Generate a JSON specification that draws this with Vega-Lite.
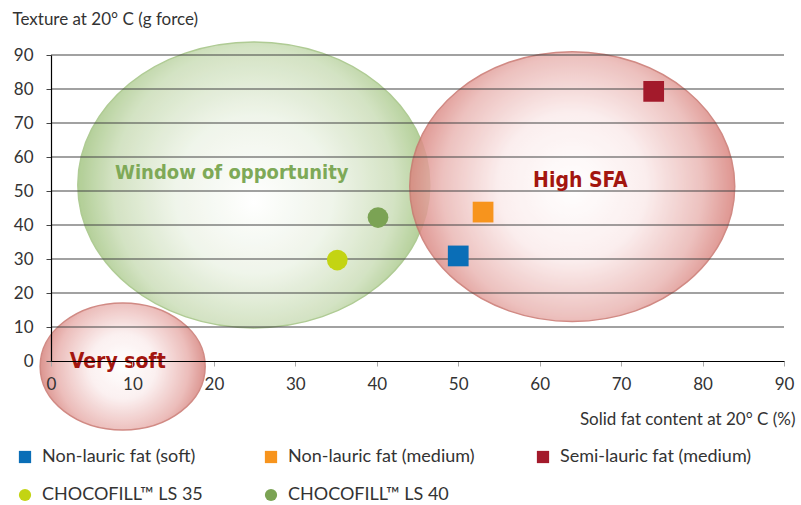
{
  "$schema": "https://vega.github.io/schema/vega-lite/v6.json",
  "width": 733,
  "height": 306,
  "autosize": {"type": "none"},
  "padding": {"left": 51, "top": 55, "right": 17, "bottom": 144},
  "background": "white",
  "config": {
    "view": {"stroke": null},
    "font": "Lato",
    "axisX": {
      "tickCount": 9,
      "grid": false,
      "domainColor": "#000000",
      "domainWidth": 1.2,
      "tickColor": "#aaaaaa",
      "tickSize": 5,
      "labelFontSize": 17,
      "labelColor": "#333333",
      "labelPadding": 10,
      "labelOverlap": false,
      "labelFlush": false,
      "titleFontSize": 17,
      "titleFontWeight": "normal",
      "titleColor": "#333333",
      "titleAlign": "right",
      "titleBaseline": "middle",
      "titleX": 744,
      "titleY": 58
    },
    "axisY": {
      "tickCount": 9,
      "grid": false,
      "domainColor": "#000000",
      "domainWidth": 1.2,
      "tickColor": "#444444",
      "tickSize": 5,
      "labelFontSize": 17,
      "labelColor": "#333333",
      "labelPadding": 13,
      "labelOverlap": false,
      "titleFontSize": 17,
      "titleFontWeight": "normal",
      "titleColor": "#333333",
      "titleAngle": 0,
      "titleAlign": "left",
      "titleBaseline": "middle",
      "titleX": -39,
      "titleY": -36
    }
  },
  "datasets": {
    "zones": [
      {"zone": "Window of opportunity", "cx": 24.9, "cy": 51.8, "lx": 22.2, "ly": 55.3},
      {"zone": "High SFA", "cx": 64.0, "cy": 51.3, "lx": 65.0, "ly": 52.9},
      {"zone": "Very soft", "cx": 8.8, "cy": -1.6, "lx": 8.2, "ly": -0.4}
    ],
    "grid": [
      {"level": 10}, {"level": 20}, {"level": 30}, {"level": 40}, {"level": 50},
      {"level": 60}, {"level": 70}, {"level": 80}, {"level": 90}
    ],
    "products": [
      {"product": "Non-lauric fat (soft)", "sfc": 50.0, "texture": 30.9},
      {"product": "Non-lauric fat (medium)", "sfc": 53.05, "texture": 43.8},
      {"product": "Semi-lauric fat (medium)", "sfc": 74.0, "texture": 79.3},
      {"product": "CHOCOFILL™ LS 35", "sfc": 35.15, "texture": 29.7},
      {"product": "CHOCOFILL™ LS 40", "sfc": 40.15, "texture": 42.2}
    ]
  },
  "layer": [
    {
      "data": {"name": "zones"},
      "transform": [{"filter": "datum.zone === 'Window of opportunity'"}],
      "mark": {
        "type": "point",
        "shape": "M -1 0 A 1 0.8125 0 1 1 1 0 A 1 0.8125 0 1 1 -1 0 Z",
        "size": 123904,
        "filled": true,
        "fill": {
          "gradient": "radial",
          "x1": 0.5, "y1": 0.55, "r1": 0,
          "x2": 0.5, "y2": 0.5, "r2": 0.5,
          "stops": [
            {"offset": 0, "color": "#ffffff"},
            {"offset": 0.45, "color": "#eef4e8"},
            {"offset": 0.8, "color": "#cfe0bd"},
            {"offset": 1, "color": "#a9c98a"}
          ]
        },
        "stroke": "#a7c689",
        "strokeWidth": 1.5,
        "opacity": 0.9
      },
      "encoding": {
        "x": {
          "field": "cx", "type": "quantitative",
          "scale": {"domain": [0, 90], "nice": false, "zero": false},
          "title": "Solid fat content at 20° C (%)",
          "axis": {"zindex": 1}
        },
        "y": {
          "field": "cy", "type": "quantitative",
          "scale": {"domain": [0, 90], "nice": false, "zero": false},
          "title": "Texture at 20° C (g force)",
          "axis": {"zindex": 1}
        }
      }
    },
    {
      "data": {"name": "zones"},
      "transform": [{"filter": "datum.zone === 'High SFA'"}],
      "mark": {
        "type": "point",
        "shape": "M -1 0 A 1 0.83 0 1 1 1 0 A 1 0.83 0 1 1 -1 0 Z",
        "size": 105625,
        "filled": true,
        "fill": {
          "gradient": "radial",
          "x1": 0.5, "y1": 0.5, "r1": 0,
          "x2": 0.5, "y2": 0.5, "r2": 0.5,
          "stops": [
            {"offset": 0, "color": "#ffffff"},
            {"offset": 0.45, "color": "#fbecec"},
            {"offset": 0.8, "color": "#eab7b4"},
            {"offset": 1, "color": "#d9837d"}
          ]
        },
        "stroke": "#c9766f",
        "strokeWidth": 1.5,
        "opacity": 0.85
      },
      "encoding": {
        "x": {"field": "cx", "type": "quantitative"},
        "y": {"field": "cy", "type": "quantitative"}
      }
    },
    {
      "data": {"name": "zones"},
      "transform": [{"filter": "datum.zone === 'Very soft'"}],
      "mark": {
        "type": "point",
        "shape": "M -1 0 A 1 0.77 0 1 1 1 0 A 1 0.77 0 1 1 -1 0 Z",
        "size": 27225,
        "filled": true,
        "fill": {
          "gradient": "radial",
          "x1": 0.5, "y1": 0.5, "r1": 0,
          "x2": 0.5, "y2": 0.5, "r2": 0.5,
          "stops": [
            {"offset": 0, "color": "#ffffff"},
            {"offset": 0.4, "color": "#fbeeee"},
            {"offset": 0.8, "color": "#e9b2af"},
            {"offset": 1, "color": "#d6837d"}
          ]
        },
        "stroke": "#c9766f",
        "strokeWidth": 1.5,
        "opacity": 0.85
      },
      "encoding": {
        "x": {"field": "cx", "type": "quantitative"},
        "y": {"field": "cy", "type": "quantitative"}
      }
    },
    {
      "data": {"name": "grid"},
      "mark": {"type": "rule", "color": "#444444", "strokeWidth": 1.2},
      "encoding": {
        "y": {"field": "level", "type": "quantitative"}
      }
    },
    {
      "data": {"name": "zones"},
      "transform": [{"filter": "datum.zone === 'Window of opportunity'"}],
      "mark": {"type": "text", "font": "DejaVu Sans Condensed, Liberation Sans, sans-serif", "fontWeight": "bold", "fontSize": 20, "color": "#7ea957", "align": "center", "baseline": "middle"},
      "encoding": {
        "x": {"field": "lx", "type": "quantitative"},
        "y": {"field": "ly", "type": "quantitative"},
        "text": {"field": "zone"}
      }
    },
    {
      "data": {"name": "zones"},
      "transform": [{"filter": "datum.zone !== 'Window of opportunity'"}],
      "mark": {"type": "text", "font": "DejaVu Sans Condensed, Liberation Sans, sans-serif", "fontWeight": "bold", "fontSize": 21, "color": "#a3160f", "align": "center", "baseline": "middle"},
      "encoding": {
        "x": {"field": "lx", "type": "quantitative"},
        "y": {"field": "ly", "type": "quantitative"},
        "text": {"field": "zone"}
      }
    },
    {
      "data": {"name": "products"},
      "mark": {"type": "point", "filled": true, "opacity": 1, "size": 430},
      "encoding": {
        "x": {"field": "sfc", "type": "quantitative"},
        "y": {"field": "texture", "type": "quantitative"},
        "color": {
          "field": "product", "type": "nominal",
          "scale": {
            "domain": ["Non-lauric fat (soft)", "CHOCOFILL™ LS 35", "Non-lauric fat (medium)", "CHOCOFILL™ LS 40", "Semi-lauric fat (medium)"],
            "range": ["#0a6eb7", "#c3d413", "#f7941d", "#7ba354", "#a31a2b"]
          },
          "legend": {
            "title": null,
            "orient": "none",
            "legendX": -35,
            "legendY": 393,
            "columns": 3,
            "gridAlign": "each",
            "columnPadding": 59,
            "rowPadding": 20,
            "symbolSize": 150,
            "symbolStrokeWidth": 0,
            "labelFontSize": 18,
            "labelColor": "#333333",
            "labelOffset": 8,
            "labelLimit": 300,
            "padding": 0
          }
        },
        "shape": {
          "field": "product", "type": "nominal",
          "scale": {
            "domain": ["Non-lauric fat (soft)", "CHOCOFILL™ LS 35", "Non-lauric fat (medium)", "CHOCOFILL™ LS 40", "Semi-lauric fat (medium)"],
            "range": ["square", "circle", "square", "circle", "square"]
          }
        }
      }
    }
  ]
}
